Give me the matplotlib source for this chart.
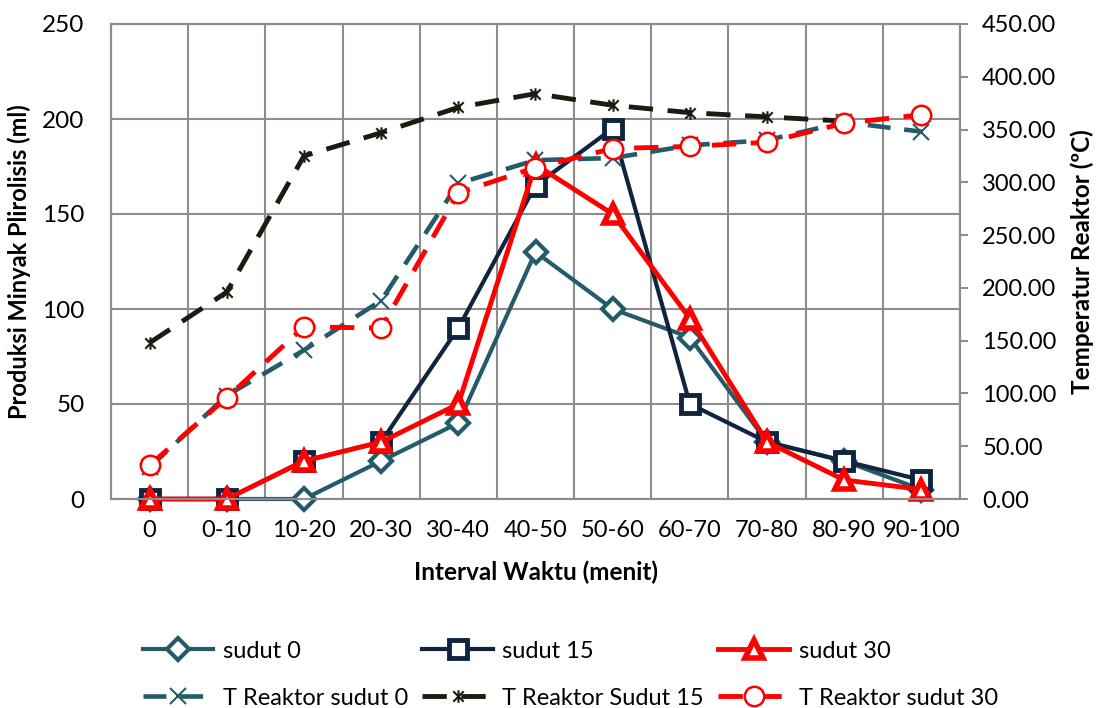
import numpy as np
import matplotlib.pyplot as plt
from matplotlib.path import Path

plt.rcParams['font.family'] = ['Lato', 'DejaVu Sans']

intervals = ['0', '0-10', '10-20', '20-30', '30-40', '40-50', '50-60',
             '60-70', '70-80', '80-90', '90-100']

# produksi minyak (ml)
sudut_0 = [0, 0, 0, 20, 40, 130, 100, 85, 30, 20, 5]
sudut_15 = [0, 0, 20, 30, 90, 165, 195, 50, 30, 20, 10]
sudut_30 = [0, 0, 20, 30, 50, 176, 150, 95, 30, 10, 5]

# temperatur reaktor (C)
t_sudut_0 = [30, 98, 141, 188, 299, 321, 323, 335, 340, 357, 348]
t_sudut_15 = [148, 196, 325, 347, 371, 384, 373, 366, 362, 358]
t_sudut_30 = [32, 96, 163, 162, 290, 314, 332, 334, 338, 356, 364]

teal = '#235B69'
navy = '#10243F'
dark = '#1D1B10'
red = '#FF0000'
grey = '#8C8C8C'

# excel style "star" marker: x with vertical bar
star = Path([(-1, -1), (1, 1), (-1, 1), (1, -1), (0, -1.2), (0, 1.2)],
            [Path.MOVETO, Path.LINETO, Path.MOVETO, Path.LINETO, Path.MOVETO, Path.LINETO])

x = np.arange(len(intervals))

fig = plt.figure(figsize=(11.07, 7.08), dpi=100)
ax = fig.add_axes([111/1107, 1-499/708, 849/1107, 475/708])
ax2 = ax.twinx()

l1, = ax.plot(x, sudut_0, color=teal, lw=3, marker='D', ms=11, mfc='white', mec=teal, mew=3,
              label='sudut 0', zorder=3, clip_on=False)
l2, = ax.plot(x, sudut_15, color=navy, lw=3, marker='s', ms=13, mfc='white', mec=navy, mew=3.5,
              label='sudut 15', zorder=4, clip_on=False)
l3, = ax.plot(x, sudut_30, color=red, lw=3.5, marker='^', ms=13, mfc='white', mec=red, mew=4,
              label='sudut 30', zorder=5, clip_on=False)

l4, = ax2.plot(x, t_sudut_0, color=teal, lw=3.3, dashes=(5, 3), marker='x', ms=12, mec=teal, mew=1.5,
               label='T Reaktor sudut 0', zorder=3, clip_on=False)
l5, = ax2.plot(x[:len(t_sudut_15)], t_sudut_15, color=dark, lw=3.5, dashes=(5, 3), marker=star, ms=9,
               mec=dark, mew=1.5, label='T Reaktor Sudut 15', zorder=4, clip_on=False)
l6, = ax2.plot(x, t_sudut_30, color=red, lw=3.5, dashes=(5, 3), marker='o', ms=14, mfc='white', mec=red,
               mew=1.8, label='T Reaktor sudut 30', zorder=5, clip_on=False)

ax.set_xlim(-0.5, len(intervals) - 0.5)
ax.set_ylim(0, 250)
ax.set_yticks(np.arange(0, 251, 50))
ax2.set_ylim(0, 450)
ax2.set_yticks(np.arange(0, 451, 50))
ax2.set_yticklabels([f'{v:.2f}' for v in np.arange(0, 451, 50)])

ax.set_xticks(x)
ax.set_xticklabels(intervals)
ax.set_xticks(np.arange(-0.5, len(intervals)), minor=True)
ax.grid(True, which='minor', axis='x', color=grey, lw=1.5)
ax.grid(True, which='major', axis='y', color=grey, lw=1.5)
ax.set_axisbelow(True)

ax.tick_params(axis='x', which='both', length=0, pad=15, labelsize=17)
ax.tick_params(axis='y', length=0, pad=19, labelsize=17.5)
ax2.tick_params(axis='y', length=6, width=1.5, color=grey, pad=10, labelsize=17)

for a in (ax, ax2):
    for s in a.spines.values():
        s.set_color(grey)
        s.set_linewidth(1.5)

ax.set_ylabel('Produksi Minyak Plirolisis (ml)', fontsize=17, fontweight='bold', labelpad=8)
ax2.set_ylabel('Temperatur Reaktor (ºC)', fontsize=17.5, fontweight='bold', labelpad=10)
ax.set_xlabel('Interval Waktu (menit)', fontsize=17.5, fontweight='bold', labelpad=14)

fig.legend(handles=[l1, l4, l2, l5, l3, l6], ncol=3, loc='center',
           bbox_to_anchor=(0.515, 0.047), frameon=False, fontsize=17,
           handlelength=3.0, labelspacing=1.1, columnspacing=0.6, handletextpad=0.4)

fig.savefig('out.png', dpi=100)
